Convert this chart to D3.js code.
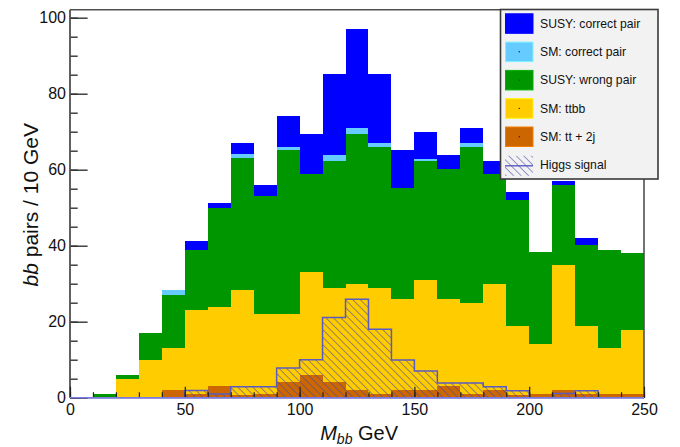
<!DOCTYPE html>
<html>
<head>
<meta charset="utf-8">
<script src="https://cdn.jsdelivr.net/npm/d3@7"></script>
<style>
body { margin: 0; background: #fff; }
svg { display: block; font-family: "Liberation Sans", Arial, Helvetica, sans-serif; }
</style>
</head>
<body>
<div id="chart"></div>
<script>
// low edge of every 10 GeV bin
var binLow = [0,10,20,30,40,50,60,70,80,90,100,110,120,130,140,150,160,170,180,190,200,210,220,230,240];
var binWidth = 10;

// stacked series, bottom to top
var ttjj        = [0,0,0,0,2.0,1.0,3.1,0.7,1.1,4.1,6.0,4.1,2.0,1.1,2.0,2.0,3.1,1.1,2.0,0.7,0.9,2.0,0.9,0.9,0.9];
var ttbb        = [0,0,5,10,11,22,20.9,27.6,20.9,17.9,27.1,24.9,28,27.9,24,29.1,22.9,23.8,28,18.2,13.2,33,18,12.2,16.9];
var susyWrong   = [0,1.1,1,7,14,16,26,34.7,31,43.1,25.9,33.3,39.3,37.1,29.2,31.1,34.1,41.2,29,33.2,24.2,21.1,21.3,25.8,20.3];
var smCorrect   = [0,0,0,0,1.3,0,0,1.1,0,1,0,1.7,1.7,0.9,0,0.7,0,0.9,0,0,0,0,0,0,0];
var susyCorrect = [0,0,0,0,0,2.2,1.2,2.9,3.1,8.1,10.4,21.2,26,18.3,10,7.1,3.9,4.1,3.3,2,0,1,1.8,0,0];

// overlaid, not stacked
var higgs = [0,0,0,0,0,1.9,1.0,2.9,2.9,7.8,10,21.1,25.9,18,9.9,7,3.9,3.9,2.9,1.8,0,1.1,1.8,0,0];

var stackKeys = ["ttjj", "ttbb", "susyWrong", "smCorrect", "susyCorrect"];
var legendKeys = ["susyCorrect", "smCorrect", "susyWrong", "ttbb", "ttjj", "higgs"];
var legendLabels = ["SUSY: correct pair", "SM: correct pair", "SUSY: wrong pair", "SM: ttbb", "SM: tt + 2j", "Higgs signal"];
var xTickLabels = [0, 50, 100, 150, 200, 250];
var yTickLabels = [0, 20, 40, 60, 80, 100];

var colors = {
  ttjj: "#cc6600",
  ttbb: "#ffcc00",
  susyWrong: "#009600",
  smCorrect: "#66ccff",
  susyCorrect: "#0000ff"
};

var width = 680, height = 447;
var svg = d3.select("#chart").append("svg").attr("width", width).attr("height", height);

var x = d3.scaleLinear().domain([0, 250]).range([70, 644]);
var y = d3.scaleLinear().domain([0, 100]).range([397.7, 17.7]);
var yTop = 102.1;

// hatch for the Higgs histogram
var defs = svg.append("defs");
defs.append("pattern").attr("id", "hatch").attr("patternUnits", "userSpaceOnUse")
  .attr("width", 5.3).attr("height", 5.3).attr("patternTransform", "rotate(-45)")
  .append("line").attr("x1", 0).attr("y1", 0).attr("x2", 0).attr("y2", 5.3)
  .attr("stroke", "#4848aa").attr("stroke-width", 1.1);

var table = binLow.map(function (lo, i) {
  return { low: lo, ttjj: ttjj[i], ttbb: ttbb[i], susyWrong: susyWrong[i], smCorrect: smCorrect[i], susyCorrect: susyCorrect[i] };
});
var stacked = d3.stack().keys(stackKeys)(table);

var plot = svg.append("g");
stacked.forEach(function (layer) {
  plot.selectAll(null).data(layer.filter(function (d) { return d[1] > d[0]; })).enter().append("rect")
    .attr("x", function (d) { return x(d.data.low); })
    .attr("width", function (d) { return x(d.data.low + binWidth) - x(d.data.low); })
    .attr("y", function (d) { return y(d[1]); })
    .attr("height", function (d) { return y(d[0]) - y(d[1]); })
    .attr("fill", colors[layer.key])
    .attr("shape-rendering", "crispEdges");
});

// Higgs signal outline as a step path
var pts = [[0, 0]];
binLow.forEach(function (lo, i) { pts.push([lo, higgs[i]]); pts.push([lo + binWidth, higgs[i]]); });
pts.push([250, 0]);
var stepLine = d3.line().x(function (d) { return x(d[0]); }).y(function (d) { return y(d[1]); });
plot.append("path").attr("d", stepLine(pts) + "Z")
  .attr("fill", "url(#hatch)").attr("stroke", "#5a5ac4").attr("stroke-width", 1.5);

// frame
var frame = svg.append("g").attr("fill", "none").attr("stroke", "#505050").attr("stroke-width", 1.6);
frame.append("line").attr("x1", x(0)).attr("x2", x(250)).attr("y1", y(yTop)).attr("y2", y(yTop));
frame.append("line").attr("x1", x(250)).attr("x2", x(250)).attr("y1", y(yTop)).attr("y2", y(0));

// y axis: minor ticks every 5, major every 20
var yMinor = svg.append("g").attr("transform", "translate(" + x(0) + ",0)")
  .call(d3.axisLeft(y).tickValues(d3.range(0, 101, 5)).tickSize(-7.7).tickFormat(""));
var yMajor = svg.append("g").attr("transform", "translate(" + x(0) + ",0)")
  .call(d3.axisLeft(y).tickValues(yTickLabels).tickSize(-17.6).tickPadding(4));
[yMinor, yMajor].forEach(function (g) {
  g.select(".domain").remove();
  g.selectAll(".tick line").attr("stroke", "#333").attr("stroke-width", 1.4);
});
yMajor.selectAll(".tick text").attr("font-size", 16).attr("fill", "#111")
  .attr("font-family", "Liberation Sans, Arial, sans-serif");
svg.append("line").attr("x1", x(0)).attr("x2", x(0)).attr("y1", y(yTop)).attr("y2", y(0))
  .attr("stroke", "#505050").attr("stroke-width", 1.8);

// x axis: ticks every 10, labels every 50
var xMinor = svg.append("g").attr("transform", "translate(0," + y(0) + ")")
  .call(d3.axisBottom(x).tickValues(d3.range(0, 251, 10)).tickSize(-5.5).tickFormat(""));
var xMajor = svg.append("g").attr("transform", "translate(0," + y(0) + ")")
  .call(d3.axisBottom(x).tickValues(xTickLabels).tickSize(-11).tickPadding(5.5));
[xMinor, xMajor].forEach(function (g) {
  g.select(".domain").remove();
  g.selectAll(".tick line").attr("stroke", "#222").attr("stroke-width", 1.2);
});
xMajor.selectAll(".tick text").attr("font-size", 16).attr("fill", "#111")
  .attr("font-family", "Liberation Sans, Arial, sans-serif");
// Higgs baseline sits on the bottom edge
svg.append("line").attr("x1", x(0)).attr("x2", x(250)).attr("y1", y(0)).attr("y2", y(0))
  .attr("stroke", "#7b7be0").attr("stroke-width", 1.4);

// axis titles
var xt = svg.append("text").attr("x", 398).attr("y", 439.5).attr("text-anchor", "end")
  .attr("font-size", 20).attr("fill", "#111");
xt.append("tspan").attr("font-style", "italic").text("M");
xt.append("tspan").attr("font-style", "italic").attr("font-size", 14).attr("dy", 4).text("bb");
xt.append("tspan").attr("dy", -4).text(" GeV");

var yt = svg.append("text").attr("transform", "translate(38,123) rotate(-90)")
  .attr("text-anchor", "end").attr("font-size", 21).attr("fill", "#111");
yt.append("tspan").attr("font-style", "italic").text("bb");
yt.append("tspan").text(" pairs / 10 GeV");

// legend
var lg = svg.append("g");
lg.append("rect").attr("x", 500.5).attr("y", 9.5).attr("width", 157.5).attr("height", 169.5)
  .attr("fill", "#f2f2f2").attr("stroke", "#3a3a3a").attr("stroke-width", 1.6);
legendKeys.forEach(function (key, i) {
  var top = 13.3 + i * 28.3;
  var row = lg.append("g");
  if (key === "higgs") {
    row.append("rect").attr("x", 505).attr("y", top + 1).attr("width", 28).attr("height", 20)
      .attr("fill", "url(#hatch)");
    row.append("line").attr("x1", 505).attr("x2", 533).attr("y1", top + 11).attr("y2", top + 11)
      .attr("stroke", "#5a5ac4").attr("stroke-width", 1.4);
  } else {
    row.append("rect").attr("x", 505.5).attr("y", top + 0.5).attr("width", 27.5).attr("height", 19.5)
      .attr("fill", colors[key]).attr("stroke", d3.color(colors[key]).brighter(0.5)).attr("stroke-width", 1);
    row.append("circle").attr("cx", 519.3).attr("cy", top + 10.2).attr("r", 0.7).attr("fill", "#222");
  }
  row.append("text").attr("x", 540).attr("y", top + 14.3).attr("font-size", 12.2).attr("fill", "#111")
    .text(legendLabels[i]);
});
</script>
</body>
</html>
